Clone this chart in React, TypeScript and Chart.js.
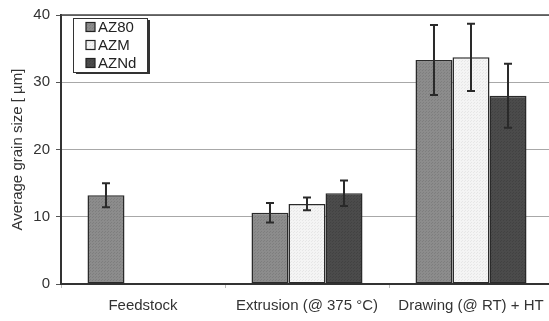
import React, { useEffect, useRef } from "react";
import { Chart, registerables } from "chart.js";

Chart.register(...registerables);

const categories = ["Feedstock", "Extrusion (@ 375 \u00B0C)", "Drawing (@ RT) + HT"];
const seriesNames = ["AZ80", "AZM", "AZNd"];
const az80 = [13.2, 10.6, 33.3];
const azm = [null, 11.9, 33.7];
const aznd = [null, 13.5, 28.0];
const az80Err = [1.8, 1.45, 5.2];
const azmErr = [null, 0.95, 5.0];
const azndErr = [null, 1.9, 4.75];
const yTicks = [0, 10, 20, 30, 40];

const FONT = "'Liberation Sans', Arial, Helvetica, sans-serif";

function makePattern(base: string, dot: string) {
  const c = document.createElement("canvas");
  c.width = 3;
  c.height = 3;
  const g = c.getContext("2d")!;
  g.fillStyle = base;
  g.fillRect(0, 0, 3, 3);
  g.fillStyle = dot;
  g.fillRect(0, 0, 1, 1);
  g.fillRect(2, 1, 1, 1);
  const ctx = document.createElement("canvas").getContext("2d")!;
  return ctx.createPattern(c, "repeat") as CanvasPattern;
}

export default function App() {
  const ref = useRef<HTMLCanvasElement>(null);

  useEffect(() => {
    document.body.style.margin = "0";
    document.body.style.overflow = "hidden";
    const canvas = ref.current!;
    const fills = [
      makePattern("#8c8c8c", "#7e7e7e"),
      makePattern("#f4f4f4", "#e6e6e6"),
      makePattern("#4b4b4b", "#424242"),
    ];
    const values = [az80, azm, aznd];
    const errs = [az80Err, azmErr, azndErr];

    const errorBars = {
      id: "errorBars",
      afterDatasetsDraw(chart: any) {
        const ctx = chart.ctx;
        const y = chart.scales.y;
        ctx.save();
        ctx.strokeStyle = "#2a2a2a";
        ctx.lineWidth = 2;
        chart.data.datasets.forEach((ds: any, di: number) => {
          const meta = chart.getDatasetMeta(di);
          meta.data.forEach((el: any, i: number) => {
            const v = values[di][i];
            const e = errs[di][i];
            if (v == null || e == null) return;
            const x = el.x;
            const t = y.getPixelForValue(v + e);
            const b = y.getPixelForValue(v - e);
            ctx.beginPath();
            ctx.moveTo(x, t);
            ctx.lineTo(x, b);
            ctx.moveTo(x - 4, t);
            ctx.lineTo(x + 4, t);
            ctx.moveTo(x - 4, b);
            ctx.lineTo(x + 4, b);
            ctx.stroke();
          });
        });
        ctx.restore();
      },
    };

    const frame = {
      id: "frame",
      afterDraw(chart: any) {
        const ctx = chart.ctx;
        const a = chart.chartArea;
        ctx.save();
        ctx.strokeStyle = "#444";
        ctx.lineWidth = 1.5;
        ctx.beginPath();
        ctx.moveTo(a.left, a.top);
        ctx.lineTo(a.right, a.top);
        ctx.lineTo(a.right, a.bottom);
        ctx.stroke();
        // legend
        const lx = 73, ly = 18, lw = 74, lh = 54;
        ctx.fillStyle = "#333";
        ctx.fillRect(lx + 3, ly + 2, lw, lh);
        ctx.fillStyle = "#fff";
        ctx.fillRect(lx, ly, lw, lh);
        ctx.strokeStyle = "#333";
        ctx.lineWidth = 1;
        ctx.strokeRect(lx + 0.5, ly + 0.5, lw, lh);
        ctx.font = `15px ${FONT}`;
        ctx.textBaseline = "middle";
        ctx.textAlign = "left";
        chart.data.datasets.forEach((ds: any, i: number) => {
          const cy = 27 + i * 18;
          ctx.fillStyle = fills[i];
          ctx.fillRect(86, cy - 4.5, 9, 9);
          ctx.strokeStyle = "#222";
          ctx.lineWidth = 1.2;
          ctx.strokeRect(86, cy - 4.5, 9, 9);
          ctx.fillStyle = "#222";
          ctx.fillText(ds.label, 98, cy + 0.5);
        });
        ctx.restore();
      },
    };

    const chart = new Chart(canvas, {
      type: "bar",
      data: {
        labels: categories,
        datasets: seriesNames.map((name, i) => ({
          label: name,
          data: values[i] as any,
          backgroundColor: fills[i] as any,
          borderColor: "#2a2a2a",
          borderWidth: 1.5,
          borderSkipped: false,
          categoryPercentage: 0.677,
          barPercentage: 1,
        })),
      },
      options: {
        responsive: false,
        animation: false,
        layout: { padding: { top: 10, right: 3, left: 0, bottom: 0 } },
        plugins: { legend: { display: false }, tooltip: { enabled: false } },
        scales: {
          x: {
            afterFit: (s: any) => { s.height = 37; },
            grid: { display: true, drawOnChartArea: false, offset: true, tickLength: 4, tickColor: "#bbb" },
            border: { color: "#333", width: 2 },
            ticks: { color: "#333", padding: 9, font: { family: FONT, size: 15 }, maxRotation: 0 },
          },
          y: {
            min: 0,
            max: 40,
            afterFit: (s: any) => { s.width = 61; },
            afterBuildTicks: (s: any) => { s.ticks = yTicks.map((v) => ({ value: v })); },
            grid: { color: "#a8a8a8", lineWidth: 1, tickLength: 5, tickColor: "#555" },
            border: { color: "#333", width: 2 },
            ticks: { color: "#333", padding: 6, font: { family: FONT, size: 15 } },
            title: {
              display: true,
              text: "Average grain size [ \u00B5m]",
              color: "#333",
              font: { family: FONT, size: 15 },
              padding: { top: 9, bottom: 0 },
            },
          },
        },
      },
      plugins: [errorBars, frame],
    });
    return () => chart.destroy();
  }, []);

  return (
    <div style={{ width: 549, height: 321, overflow: "hidden" }}>
      <canvas ref={ref} width={556} height={321} style={{ display: "block" }} />
    </div>
  );
}
